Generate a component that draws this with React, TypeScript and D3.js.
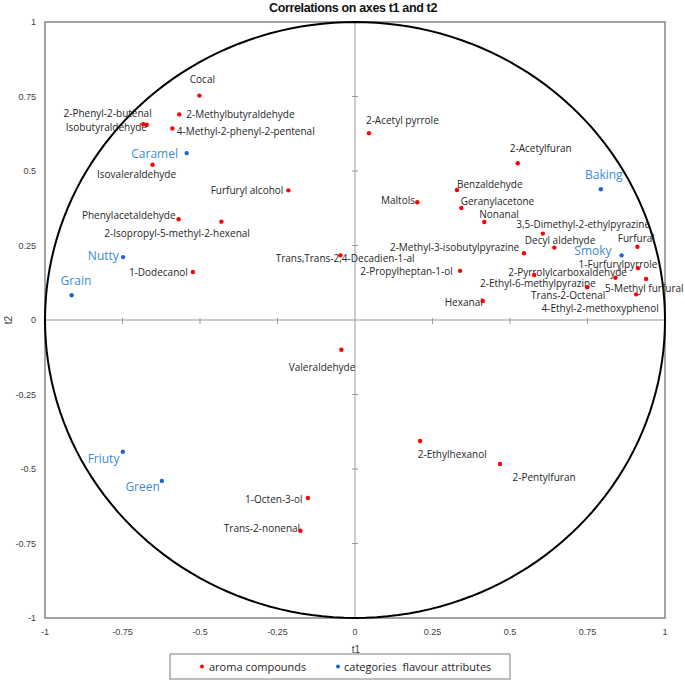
import React from "react";
import * as d3 from "d3";

// ---- data ----
const compoundNames = [
  "Cocal", "2-Methylbutyraldehyde", "2-Phenyl-2-butenal", "Isobutyraldehyde",
  "4-Methyl-2-phenyl-2-pentenal", "Isovaleraldehyde", "Furfuryl alcohol", "Phenylacetaldehyde",
  "2-Isopropyl-5-methyl-2-hexenal", "1-Dodecanol", "Trans,Trans-2,4-Decadien-1-al", "2-Acetyl pyrrole",
  "Maltols", "Benzaldehyde", "Geranylacetone", "Nonanal", "2-Acetylfuran",
  "3,5-Dimethyl-2-ethylpyrazine", "Decyl aldehyde", "2-Methyl-3-isobutylpyrazine", "Furfural",
  "1-Furfurylpyrrole", "2-Propylheptan-1-ol", "2-Pyrrolylcarboxaldehyde", "2-Ethyl-6-methylpyrazine",
  "Trans-2-Octenal", "5-Methyl furfural", "4-Ethyl-2-methoxyphenol", "Hexanal", "Valeraldehyde",
  "2-Ethylhexanol", "2-Pentylfuran", "1-Octen-3-ol", "Trans-2-nonenal",
];
const compoundT1 = [
  -0.502, -0.567, -0.672, -0.683, -0.589, -0.653, -0.215, -0.569, -0.431, -0.523, -0.047, 0.045,
  0.201, 0.329, 0.343, 0.417, 0.525, 0.606, 0.643, 0.545, 0.911, 0.913, 0.339, 0.84, 0.578,
  0.749, 0.939, 0.907, 0.412, -0.044, 0.21, 0.468, -0.152, -0.176,
];
const compoundT2 = [
  0.753, 0.69, 0.655, 0.657, 0.643, 0.521, 0.435, 0.338, 0.33, 0.161, 0.217, 0.627,
  0.395, 0.436, 0.376, 0.329, 0.526, 0.29, 0.243, 0.224, 0.246, 0.174, 0.165, 0.142, 0.151,
  0.11, 0.138, 0.086, 0.064, -0.1, -0.406, -0.483, -0.597, -0.707,
];
const categoryNames = ["Caramel", "Baking", "Nutty", "Grain", "Smoky", "Friuty", "Green"];
const categoryT1 = [-0.543, 0.793, -0.748, -0.914, 0.86, -0.749, -0.623];
const categoryT2 = [0.56, 0.439, 0.211, 0.083, 0.217, -0.442, -0.54];
const tickValues = [-1, -0.75, -0.5, -0.25, 0, 0.25, 0.5, 0.75, 1];
const legendLabels = ["aroma compounds", "categories  flavour attributes"];

// ---- label placement (anchor, dx, dy from point) ----
const compoundLabelPos: [string, number, number][] = [
  ["middle", 3, -16], ["start", 7, 0], ["end", 5, -11.5], ["end", 3.7, 3.4],
  ["start", 4.4, 3.4], ["middle", -16, 9.3], ["end", -5, 0], ["end", -3, -4],
  ["middle", -44.3, 12.3], ["end", -5, 0], ["middle", 4.7, 3], ["start", -3, -12.3],
  ["end", -2.3, -1.6], ["start", 0, -6], ["start", -0.6, -6.3], ["start", -5, -7], ["middle", 23, -14.3],
  ["middle", 40.3, -8.7], ["middle", 5.7, -6.7], ["end", -4.7, -6], ["start", -19.6, -8.4],
  ["middle", -20, -3.7], ["end", -7.3, 1], ["middle", -47.8, -5], ["middle", 3.7, 8.3],
  ["middle", -19, 8.4], ["middle", -1.8, 9.3], ["middle", -36, 14.4], ["end", 0, 1.7], ["middle", -19.3, 18],
  ["start", -2.3, 14], ["middle", 44, 14], ["end", -5.3, 1.3], ["end", -0.3, -2],
];
const categoryLabelPos: [string, number, number][] = [
  ["end", -8.7, 1], ["middle", 3, -14.3], ["end", -4.3, -1], ["middle", 4.3, -14.3],
  ["end", -10, -4.6], ["end", -3.4, 6.6], ["end", -2, 6],
];

const W = 685;
const H = 680;
const plot = { left: 45, right: 665, top: 22, bottom: 618 };

export default function App() {
  const x = d3.scaleLinear().domain([-1, 1]).range([plot.left, plot.right]);
  const y = d3.scaleLinear().domain([-1, 1]).range([plot.bottom, plot.top]);
  const fmt = (v: number) => (v === 0 ? "0" : String(v));

  const circlePts = d3.range(0, 361, 2).map((a) => [Math.cos((a * Math.PI) / 180), Math.sin((a * Math.PI) / 180)]);
  const circlePath = d3
    .line<number[]>()
    .x((d) => x(d[0]))
    .y((d) => y(d[1]))
    .curve(d3.curveLinearClosed)(circlePts) as string;

  const labelFont = "'Open Sans', 'Noto Sans', sans-serif";
  const axisFont = "'Liberation Sans', Arial, sans-serif";
  const red = "#ff0000";
  const blue = "#1f64d6";
  const blueText = "#3b8bd8";

  return (
    <svg width={W} height={H} style={{ position: "absolute", left: 0, top: 0, background: "#fff" }}>
      <text x={353} y={11.5} textAnchor="middle" fontFamily={axisFont} fontWeight="bold" fontSize={12.5} letterSpacing={-0.35} fill="#111">
        Correlations on axes t1 and t2
      </text>

      {/* axes through origin */}
      <line x1={x(0)} x2={x(0)} y1={plot.top} y2={plot.bottom} stroke="#9a9a9a" strokeWidth={1} />
      <line x1={plot.left} x2={plot.right} y1={y(0)} y2={y(0)} stroke="#9a9a9a" strokeWidth={1} />
      {tickValues.filter((v) => Math.abs(v) < 1 && v !== 0).map((v) => (
        <g key={"t" + v}>
          <line x1={x(0) - 3} x2={x(0) + 3} y1={y(v)} y2={y(v)} stroke="#9a9a9a" strokeWidth={1} />
          <line x1={x(v)} x2={x(v)} y1={y(0) - 2} y2={y(0) + 4} stroke="#9a9a9a" strokeWidth={1} />
        </g>
      ))}

      {/* plot border */}
      <rect x={plot.left} y={plot.top} width={plot.right - plot.left} height={plot.bottom - plot.top} fill="none" stroke="#858585" strokeWidth={1.5} />

      {/* correlation circle */}
      <path d={circlePath} fill="none" stroke="#000" strokeWidth={2} />

      {/* tick labels */}
      {tickValues.map((v) => (
        <text key={"yl" + v} x={36} y={y(v)} dy="0.35em" textAnchor="end" fontFamily={axisFont} fontSize={9} fill="#404040">
          {fmt(v)}
        </text>
      ))}
      {tickValues.map((v) => (
        <text key={"xl" + v} x={x(v)} y={635} textAnchor="middle" fontFamily={axisFont} fontSize={9} fill="#404040">
          {fmt(v)}
        </text>
      ))}
      <text x={356} y={653} textAnchor="middle" fontFamily={axisFont} fontSize={10} fill="#404040">t1</text>
      <text transform={`translate(12,${y(0)}) rotate(-90)`} textAnchor="middle" fontFamily={axisFont} fontSize={10} fill="#404040">t2</text>

      {/* compounds */}
      {compoundNames.map((n, i) => {
        const px = x(compoundT1[i]);
        const py = y(compoundT2[i]);
        const [anc, dx, dy] = compoundLabelPos[i];
        return (
          <g key={n}>
            <text x={px + dx} y={py + dy} dy="0.35em" textAnchor={anc as any} fontFamily={labelFont} fontSize={10} fill="#262626">
              {n}
            </text>
            <circle cx={px} cy={py} r={2.2} fill={red} />
          </g>
        );
      })}

      {/* categories */}
      {categoryNames.map((n, i) => {
        const px = x(categoryT1[i]);
        const py = y(categoryT2[i]);
        const [anc, dx, dy] = categoryLabelPos[i];
        return (
          <g key={n}>
            <text x={px + dx} y={py + dy} dy="0.35em" textAnchor={anc as any} fontFamily={labelFont} fontSize={12} fill={blueText}>
              {n}
            </text>
            <circle cx={px} cy={py} r={2.2} fill={blue} />
          </g>
        );
      })}

      {/* legend */}
      <rect x={170} y={654} width={340} height={25} fill="#fff" stroke="#7f7f7f" strokeWidth={1} />
      <circle cx={202} cy={666.5} r={2} fill={red} />
      <text x={209} y={667} dy="0.35em" fontFamily={labelFont} fontSize={11} fill="#262626">{legendLabels[0]}</text>
      <circle cx={338} cy={666.5} r={2} fill={blue} />
      <text x={344} y={667} dy="0.35em" fontFamily={labelFont} fontSize={11} fill="#262626" style={{ whiteSpace: "pre" }}>{legendLabels[1]}</text>
    </svg>
  );
}
